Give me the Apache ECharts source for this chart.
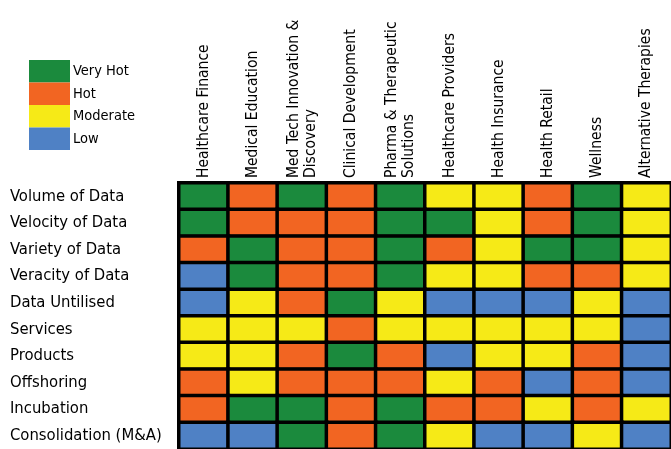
<!DOCTYPE html>
<html>
<head>
<meta charset="utf-8">
<script src="https://cdn.jsdelivr.net/npm/echarts@6/dist/echarts.min.js"></script>
<style>
  html, body { margin: 0; padding: 0; background: #ffffff; }
  #chart { width: 671px; height: 449px; }
</style>
</head>
<body>
<div id="chart"></div>
<script>
// Market segments (columns)
const segments = [
  'Healthcare Finance',
  'Medical Education',
  'Med Tech Innovation &\nDiscovery',
  'Clinical Development',
  'Pharma & Therapeutic\nSolutions',
  'Healthcare Providers',
  'Health Insurance',
  'Health Retail',
  'Wellness',
  'Alternative Therapies'
];

// Data dimensions / opportunity areas (rows)
const dimensions = [
  'Volume of Data',
  'Velocity of Data',
  'Variety of Data',
  'Veracity of Data',
  'Data Untilised',
  'Services',
  'Products',
  'Offshoring',
  'Incubation',
  'Consolidation (M&A)'
];

// Heat levels: 3 = Very Hot, 2 = Hot, 1 = Moderate, 0 = Low
const levelNames = ['Low', 'Moderate', 'Hot', 'Very Hot'];

const volumeOfData      = [3, 2, 3, 2, 3, 1, 1, 2, 3, 1];
const velocityOfData    = [3, 2, 2, 2, 3, 3, 1, 2, 3, 1];
const varietyOfData     = [2, 3, 2, 2, 3, 2, 1, 3, 3, 1];
const veracityOfData    = [0, 3, 2, 2, 3, 1, 1, 2, 2, 1];
const dataUntilised     = [0, 1, 2, 3, 1, 0, 0, 0, 1, 0];
const services          = [1, 1, 1, 2, 1, 1, 1, 1, 1, 0];
const products          = [1, 1, 2, 3, 2, 0, 1, 1, 2, 0];
const offshoring        = [2, 1, 2, 2, 2, 1, 2, 0, 2, 0];
const incubation        = [2, 3, 3, 2, 3, 2, 2, 1, 2, 1];
const consolidation     = [0, 0, 3, 2, 3, 1, 0, 0, 1, 0];

const rows = [
  volumeOfData, velocityOfData, varietyOfData, veracityOfData, dataUntilised,
  services, products, offshoring, incubation, consolidation
];

const cells = [];
rows.forEach((row, r) => {
  row.forEach((v, c) => cells.push([c, r, v]));
});

const FONT = "'DejaVu Sans Condensed', 'Liberation Sans Narrow', sans-serif";
const COLORS = { 3: '#1b8a3d', 2: '#f26522', 1: '#f6ea17', 0: '#4f81c5' };

const chart = echarts.init(document.getElementById('chart'), null, { renderer: 'canvas' });

chart.setOption({
  backgroundColor: '#ffffff',
  animation: false,
  grid: { left: 179, top: 183, width: 496, height: 270 },
  xAxis: {
    type: 'category',
    position: 'top',
    data: segments,
    axisLine: { show: false },
    axisTick: { show: false },
    splitLine: { show: false },
    axisLabel: {
      interval: 0,
      rotate: -90,
      margin: 5,
      color: '#000',
      fontFamily: FONT,
      fontSize: 15.5,
      lineHeight: 17
    }
  },
  yAxis: {
    type: 'category',
    inverse: true,
    data: dimensions,
    axisLine: { show: false },
    axisTick: { show: false },
    splitLine: { show: false },
    axisLabel: {
      interval: 0,
      align: 'left',
      margin: 169,
      color: '#000',
      fontFamily: FONT,
      fontSize: 16.5
    }
  },
  visualMap: {
    type: 'piecewise',
    dimension: 2,
    orient: 'vertical',
    left: 14,
    top: 45,
    itemWidth: 41,
    itemHeight: 22.5,
    itemGap: 0,
    textGap: 3,
    itemSymbol: 'rect',
    textStyle: { color: '#000', fontFamily: FONT, fontSize: 14.5 },
    pieces: [3, 2, 1, 0].map(v => ({ value: v, label: levelNames[v], color: COLORS[v] }))
  },
  series: [{
    type: 'heatmap',
    data: cells,
    itemStyle: { borderColor: '#000', borderWidth: 3.5 },
    emphasis: { disabled: true },
    label: { show: false }
  }]
});
</script>
</body>
</html>
